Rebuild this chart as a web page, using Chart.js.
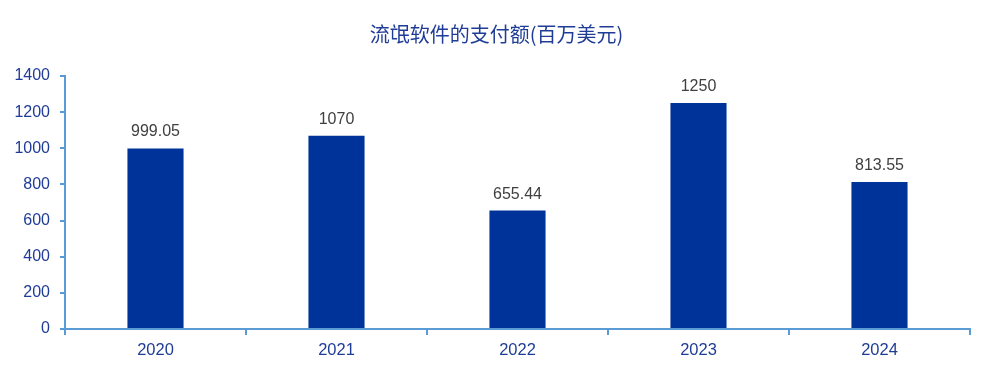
<!DOCTYPE html>
<html>
<head>
<meta charset="utf-8">
<script src="https://cdn.jsdelivr.net/npm/chart.js@4"></script>
<style>
  html, body { margin: 0; padding: 0; background: #fff; }
  #wrap { width: 993px; height: 372px; }
</style>
</head>
<body>
<div id="wrap"><canvas id="payChart" width="993" height="372"></canvas></div>
<script>
// chart data
const years = ['2020', '2021', '2022', '2023', '2024'];
const payments = [999.05, 1070, 655.44, 1250, 813.55];
const paymentLabels = ['999.05', '1070', '655.44', '1250', '813.55'];
const chartTitle = '流氓软件的支付额(百万美元)';

const axisBlue = '#5b9bd5';
const textBlue = '#1f3c96';
const latin = '"Liberation Sans", Arial, sans-serif';

// draws the value above each bar
const valueLabels = {
  id: 'valueLabels',
  afterDatasetsDraw(chart) {
    const ctx = chart.ctx;
    const meta = chart.getDatasetMeta(0);
    ctx.save();
    ctx.font = '16px ' + latin;
    ctx.fillStyle = '#404040';
    ctx.textAlign = 'center';
    ctx.textBaseline = 'alphabetic';
    meta.data.forEach((bar, i) => {
      ctx.fillText(paymentLabels[i], bar.x, bar.y - 12);
    });
    ctx.restore();
  }
};

// title centred on the whole canvas, not on the padded box
const pageTitle = {
  id: 'pageTitle',
  afterDraw(chart) {
    const ctx = chart.ctx;
    ctx.save();
    ctx.font = '20px "Noto Sans CJK SC", sans-serif';
    ctx.fillStyle = textBlue;
    ctx.textAlign = 'center';
    ctx.textBaseline = 'middle';
    ctx.fillText(chartTitle, chart.width / 2, 34);
    ctx.restore();
  }
};

new Chart(document.getElementById('payChart').getContext('2d'), {
  type: 'bar',
  data: {
    labels: years,
    datasets: [{
      label: '支付额',
      data: payments,
      backgroundColor: '#003399',
      barPercentage: 0.31,
      categoryPercentage: 1
    }]
  },
  options: {
    responsive: false,
    animation: false,
    layout: { padding: { left: 0, right: 23, top: 76, bottom: 0 } },
    plugins: {
      legend: { display: false },
      tooltip: { enabled: false },
      title: { display: false }
    },
    scales: {
      x: {
        grid: { offset: true, drawOnChartArea: false, tickLength: 6, color: axisBlue, lineWidth: 2 },
        border: { color: axisBlue, width: 2 },
        ticks: { color: textBlue, font: { family: latin, size: 16.5 }, padding: 6 },
        afterFit(scale) { scale.height = 43; }
      },
      y: {
        min: 0,
        max: 1400,
        ticks: {
          stepSize: 200,
          color: textBlue,
          font: { family: latin, size: 16 },
          padding: 10,
          callback: v => String(v)
        },
        grid: { drawOnChartArea: false, tickLength: 5, color: axisBlue, lineWidth: 2 },
        border: { color: axisBlue, width: 2 },
        afterFit(scale) { scale.width = 65; }
      }
    }
  },
  plugins: [valueLabels, pageTitle]
});
</script>
</body>
</html>
